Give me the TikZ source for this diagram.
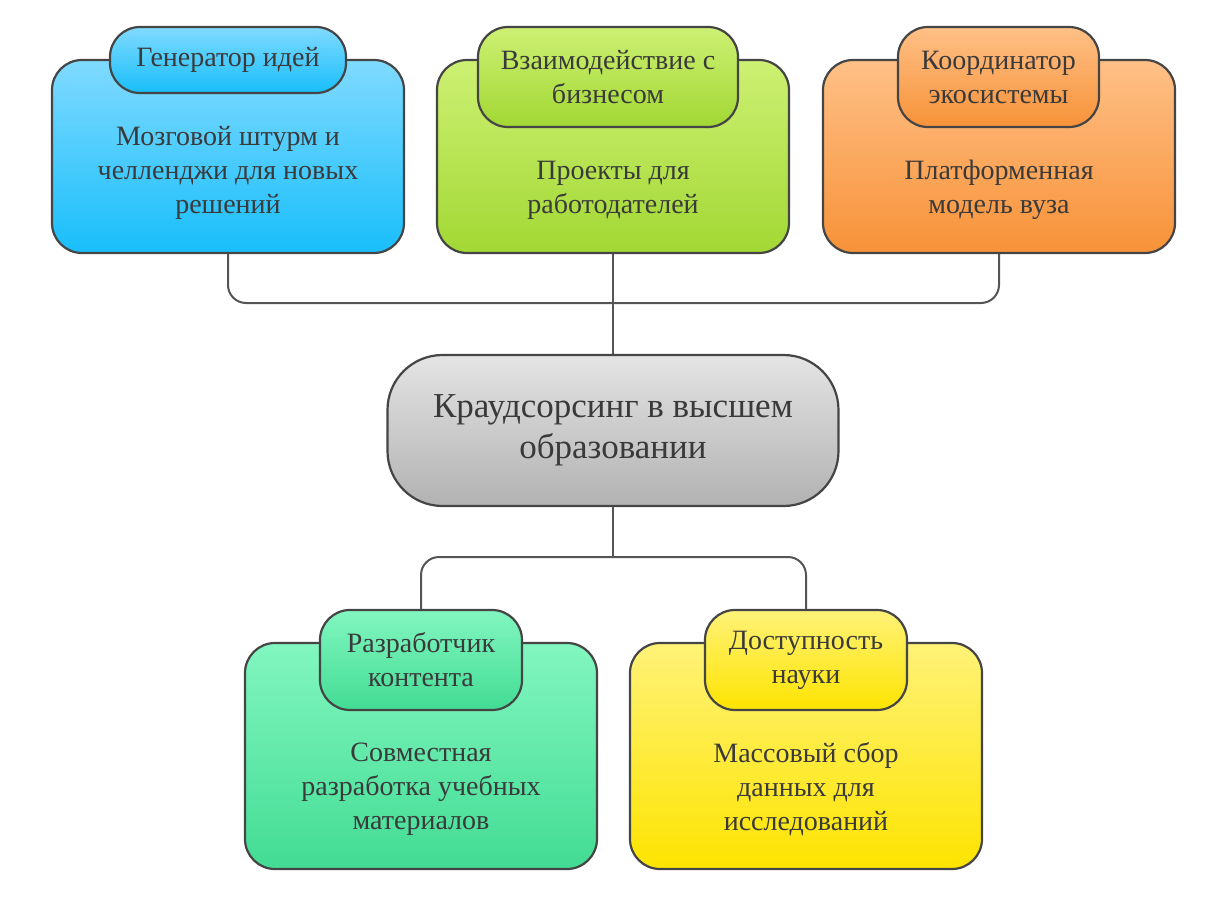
\documentclass[tikz,border=0pt]{standalone}
\usepackage{fontspec}
\setmainfont{Liberation Serif}
\definecolor{txt}{HTML}{3A3A3A}
\definecolor{edge}{HTML}{454545}
\definecolor{lnk}{HTML}{555555}
\begin{document}
\begin{tikzpicture}[x=1pt,y=-1pt,
  card/.style={draw=edge, line width=2.2pt, rounded corners=30pt, minimum width=352pt, inner sep=0pt},
  tab/.style={draw=edge, line width=2.2pt, rounded corners=30pt, inner sep=0pt, align=center, text=txt, font=\fontsize{28}{34}\selectfont},
  lbl/.style={align=center, text=txt, font=\fontsize{28}{34}\selectfont, inner sep=0pt},
  blue/.style={top color={rgb,255:red,128;green,218;blue,255}, bottom color={rgb,255:red,24;green,190;blue,250}},
  lime/.style={top color={rgb,255:red,205;green,240;blue,115}, bottom color={rgb,255:red,162;green,216;blue,52}},
  orng/.style={top color={rgb,255:red,255;green,192;blue,135}, bottom color={rgb,255:red,247;green,146;blue,56}},
  gry/.style={top color={rgb,255:red,228;green,228;blue,228}, bottom color={rgb,255:red,178;green,178;blue,178}},
  mint/.style={top color={rgb,255:red,130;green,246;blue,192}, bottom color={rgb,255:red,66;green,220;blue,148}},
  yell/.style={top color={rgb,255:red,255;green,242;blue,120}, bottom color={rgb,255:red,253;green,228;blue,0}},
  conn/.style={draw=lnk, line width=2pt, rounded corners=18pt}
]
\useasboundingbox (0,0) rectangle (1219,897);

\coordinate (hub1) at (613,303);
\coordinate (hub2) at (613,557);

% top cards
\node[card, blue, minimum height=193pt] (b1) at (228,156.5) {};
\node[card, lime, minimum height=193pt] (b2) at (613,156.5) {};
\node[card, orng, minimum height=193pt] (b3) at (999,156.5) {};

\node[tab, blue, minimum width=236pt, minimum height=66pt] (t1) at (228,60) {Генератор идей};
\node[tab, lime, minimum width=260pt, minimum height=100pt] (t2) at (608,77) {Взаимодействие с\\бизнесом};
\node[tab, orng, minimum width=201pt, minimum height=100pt] (t3) at (998.5,77) {Координатор\\экосистемы};

\node[lbl] (l1) at (228,173) {Мозговой штурм и\\челленджи для новых\\решений};
\node[lbl] (l2) at (613,190) {Проекты для\\работодателей};
\node[lbl] (l3) at (999,190) {Платформенная\\модель вуза};

% center
\node[draw=edge, line width=2.2pt, rounded corners=55pt, gry, minimum width=451pt, minimum height=151pt, inner sep=0pt, align=center, text=txt, font=\fontsize{35}{41}\selectfont] (c) at (613,430.5) {Краудсорсинг в высшем\\образовании};

% bottom cards
\node[card, mint, minimum height=226pt] (b4) at (421,756) {};
\node[card, yell, minimum height=226pt] (b5) at (806,756) {};

\node[tab, mint, minimum width=202pt, minimum height=100pt] (t4) at (421,660) {Разработчик\\контента};
\node[tab, yell, minimum width=202pt, minimum height=100pt] (t5) at (806,660) {Доступность\\науки};

\node[lbl] (l4) at (421,789) {Совместная\\разработка учебных\\материалов};
\node[lbl] (l5) at (806,789) {Массовый сбор\\данных для\\исследований};

% connectors
\draw[conn] (b1.south) |- (hub1) -| (b3.south);
\draw[conn] (b2.south) -- (c.north);
\draw[conn] (c.south) -- (hub2);
\draw[conn] (t4.north) |- (hub2) -| (t5.north);
\end{tikzpicture}
\end{document}
